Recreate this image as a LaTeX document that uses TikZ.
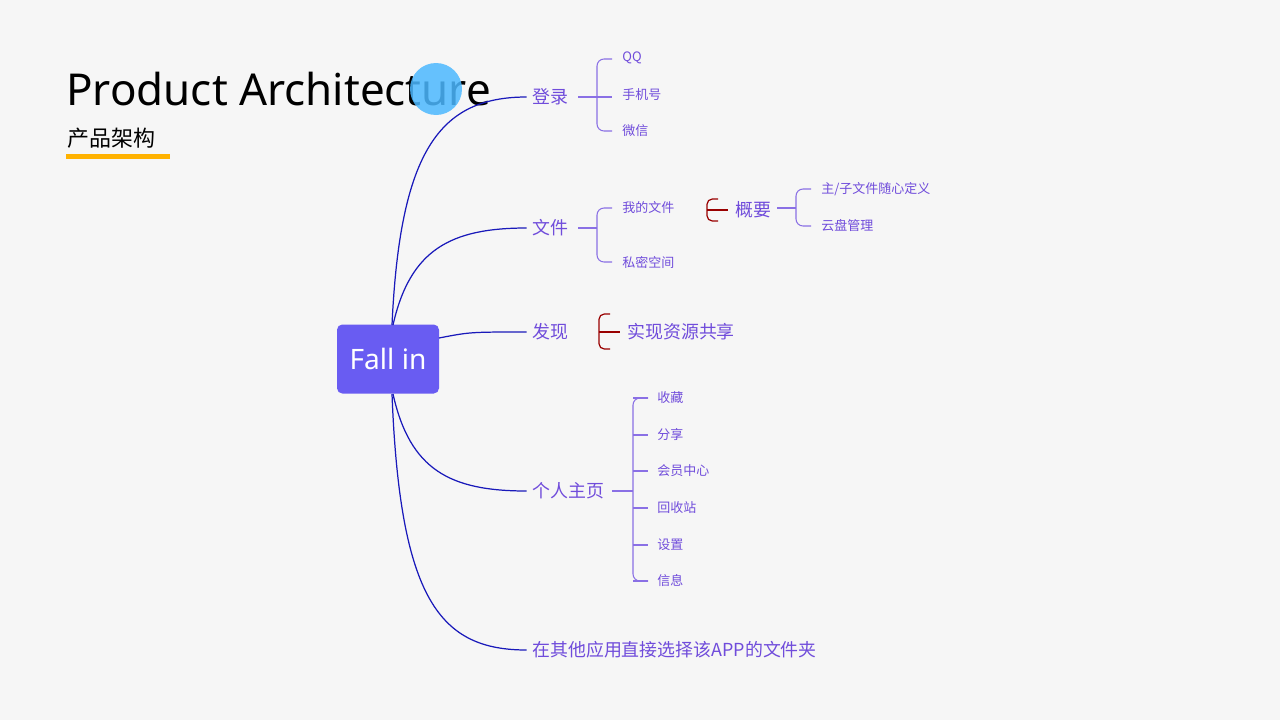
\documentclass[tikz,border=0pt]{standalone}
\usepackage{fontspec}
\setmainfont{Noto Sans}
\newfontfamily\cjk{Noto Sans CJK SC}
\begin{document}
\begin{tikzpicture}[x=0.02cm,y=-0.02cm,
  ln/.style={draw=blue!70!black!90, line width=0.7pt},
  rb/.style={draw=red!60!black, line width=0.7pt, rounded corners=3},
  bb/.style={draw=blue!45!white!80!violet, line width=0.6pt, rounded corners=4},
  big/.style={anchor=west, inner sep=0, text=violet!40!blue!70!white, font=\cjk\fontsize{10.2}{12}\selectfont},
  sm/.style={anchor=west, inner sep=0, text=violet!40!blue!70!white, font=\cjk\fontsize{7.4}{9}\selectfont}]
\fill[gray!7] (0,0) rectangle (1280,720);
\useasboundingbox (0,0) rectangle (1280,720);
\node[anchor=base west, inner sep=0, font=\fontsize{25}{30}\selectfont] (title) at (66,105) {Product Architecture};
\fill[blue!40!cyan!70!white, opacity=0.85] (436,89) circle (26);
\fill[orange!60!yellow] (66,154) rectangle (170,159);
\node[anchor=base west, inner sep=0, font=\cjk\fontsize{12.5}{14}\selectfont] (sub) at (67,146) {产品架构};
\node[fill=blue!60!white!90!violet, rounded corners=3, minimum width=102*0.02cm, minimum height=69*0.02cm, text=white, font=\fontsize{16}{18}\selectfont] (c) at (388,359) {Fall in};
% level 1
\node[big] (a) at (532,97) {登录};
\node[big] (b) at (532,228) {文件};
\node[big] (f) at (532,332) {发现};
\node[big] (p) at (532,491) {个人主页};
\node[big] (z) at (532,650) {在其他应用直接选择该APP的文件夹};
\draw[ln] (392,325) .. controls (400,150) and (440,97) .. ([xshift=-3pt]a.west);
\draw[ln] (393,325) .. controls (410,250) and (450,228) .. ([xshift=-3pt]b.west);
\draw[ln] (439,338) .. controls (470,332) .. ([xshift=-3pt]f.west);
\draw[ln] (393,394) .. controls (410,470) and (450,491) .. ([xshift=-3pt]p.west);
\draw[ln] (392,394) .. controls (400,600) and (440,650) .. ([xshift=-3pt]z.west);
% 登录
\node[sm] (a1) at (622,58) {QQ};
\node[sm] (a2) at (622,95) {手机号};
\node[sm] (a3) at (622,131) {微信};
\draw[bb] (578,97) -- (612,97);
\draw[bb] (612,59) -- (597,59) -- (597,131) -- (612,131);
% 文件
\node[sm] (b1) at (622,208) {我的文件};
\node[sm] (b2) at (622,262) {私密空间};
\draw[bb] (578,228) -- (597,228);
\draw[bb] (612,208) -- (597,208) -- (597,262) -- (612,262);
\draw[rb] (718,199) -- (707,199) -- (707,221) -- (718,221);
\draw[rb] (707,210) -- (728,210);
\node[big] (g) at (735,210) {概要};
\node[sm] (g1) at (821,189) {主/子文件随心定义};
\node[sm] (g2) at (821,226) {云盘管理};
\draw[bb] (777,208) -- (796,208);
\draw[bb] (811,189) -- (796,189) -- (796,226) -- (811,226);
% 发现
\draw[rb] (610,314) -- (599,314) -- (599,349) -- (610,349);
\draw[rb] (599,332) -- (620,332);
\node[big] (f1) at (627,332) {实现资源共享};
% 个人主页
\draw[bb] (612,491) -- (633,491);
\draw[bb] (648,398) -- (633,398) -- (633,581) -- (648,581);
\foreach \y/\t in {398/收藏,435/分享,471/会员中心,508/回收站,545/设置,581/信息}{
  \node[sm] at (657,\y) {\t};
  \draw[bb] (633,\y) -- (648,\y);
}
\end{tikzpicture}
\end{document}
